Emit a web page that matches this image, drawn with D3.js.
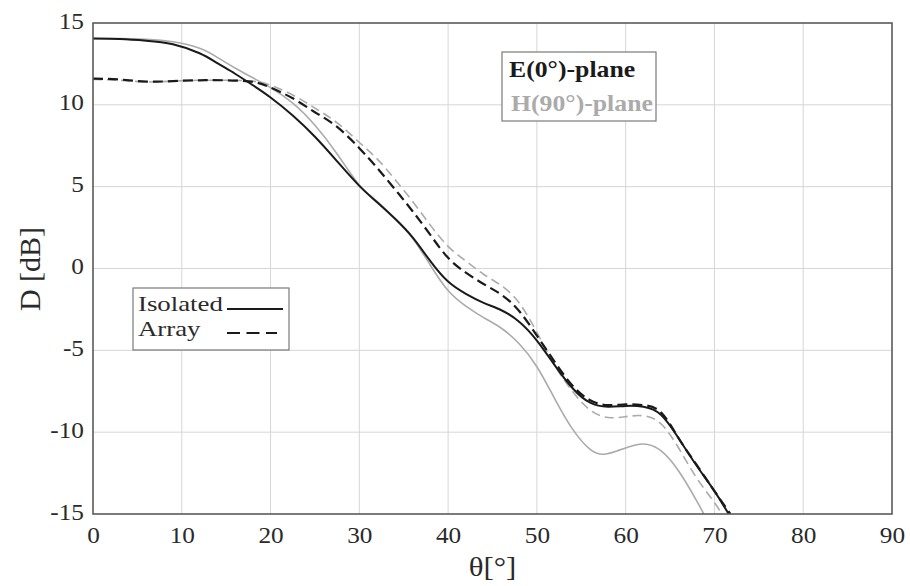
<!DOCTYPE html>
<html>
<head>
<meta charset="utf-8">
<script src="https://cdn.jsdelivr.net/npm/d3@7"></script>
<style>
  html, body { margin: 0; padding: 0; background: #fff; }
  svg { display: block; font-family: "Liberation Serif", "Times New Roman", serif; }
</style>
</head>
<body>
<svg id="chart" width="910" height="586"></svg>
<script>
// Directivity D [dB] versus elevation angle θ [°]

// E(0°)-plane, isolated element (black solid)
const eIsoTheta = [0, 3, 6, 9, 12, 14, 16, 18, 20, 22.5, 25, 27.5, 30, 32, 34, 36, 38, 40, 42, 44, 46, 48, 50, 52, 54, 56, 58, 60, 62, 64, 66, 68, 70, 71.6];
const eIsoD     = [14.05, 14.02, 13.92, 13.7, 13.15, 12.55, 11.9, 11.2, 10.45, 9.35, 8.05, 6.55, 5.05, 4.05, 3.05, 1.9, 0.45, -0.8, -1.55, -2.1, -2.55, -3.25, -4.4, -5.9, -7.3, -8.2, -8.45, -8.4, -8.45, -8.95, -10.4, -12.05, -13.6, -15];

// H(90°)-plane, isolated element (grey solid)
const hIsoTheta = [0, 3, 6, 9, 12, 14, 16, 18, 20, 22.5, 25, 27.5, 30, 32, 34, 36, 38, 40, 42, 44, 46, 48, 50, 52, 54, 56, 57.5, 59, 61, 62.5, 64, 66, 68, 68.8];
const hIsoD     = [14.05, 14.05, 14.0, 13.85, 13.45, 12.9, 12.25, 11.65, 11.05, 10.1, 8.75, 7.0, 5.1, 4.1, 3.05, 1.85, 0.2, -1.35, -2.3, -3.0, -3.65, -4.6, -6.0, -7.95, -9.8, -11.05, -11.35, -11.15, -10.8, -10.75, -11.15, -12.4, -14.2, -15];

// E(0°)-plane, array element (black dashed)
const eArrTheta = [0, 3, 6, 9, 12, 15, 18, 20, 22.5, 25, 27.5, 30, 32, 34, 36, 38, 40, 42, 44, 46, 48, 50, 52, 54, 56, 58, 60, 62, 64, 66, 68, 70, 71.8];
const eArrD     = [11.6, 11.55, 11.42, 11.45, 11.5, 11.5, 11.4, 11.05, 10.4, 9.55, 8.65, 7.35, 6.15, 4.85, 3.5, 2.05, 0.65, -0.25, -0.95, -1.6, -2.6, -4.1, -5.7, -7.15, -8.05, -8.35, -8.3, -8.35, -8.8, -10.4, -12.0, -13.6, -15];

// H(90°)-plane, array element (grey dashed)
const hArrTheta = [0, 3, 6, 9, 12, 15, 18, 20, 22.5, 25, 27.5, 30, 32, 34, 36, 38, 40, 42, 44, 46, 48, 50, 52, 54, 56, 58, 60, 62, 64, 66, 68, 70, 70.8];
const hArrD     = [11.55, 11.5, 11.4, 11.45, 11.5, 11.5, 11.45, 11.2, 10.6, 9.8, 8.9, 7.7, 6.7, 5.45, 4.1, 2.65, 1.35, 0.45, -0.35, -1.05, -2.1, -3.9, -5.9, -7.5, -8.65, -9.1, -9.05, -9.0, -9.5, -11.0, -12.8, -14.3, -15];

// Axis ticks
const xTicks = [0, 10, 20, 30, 40, 50, 60, 70, 80, 90];
const yTicks = [-15, -10, -5, 0, 5, 10, 15];

// Text
const xTitle = "θ[°]";
const yTitle = "D [dB]";
const planeLabels = ["E(0°)-plane", "H(90°)-plane"];
const typeLabels = ["Isolated", "Array"];

const svg = d3.select("#chart");
const plot = { left: 93, right: 892, top: 23, bottom: 514 };

const x = d3.scaleLinear().domain([0, 90]).range([plot.left, plot.right]);
const y = d3.scaleLinear().domain([-15, 15]).range([plot.bottom, plot.top]);

const black = "#1a1a1a";
const grey = "#ababab";
const frame = "#5a5a5a";
const textCol = "#2a2a2a";
const serif = "Liberation Serif, Times New Roman, serif";

// horizontally widened text, anchored at (tx, ty)
function wideText(sel, tx, ty, sx) {
  return sel.attr("transform", `translate(${tx},${ty}) scale(${sx},1)`);
}

// grid
const grid = svg.append("g").attr("stroke", "#d6d6d6").attr("stroke-width", 1);
grid.selectAll("line.v").data(xTicks.slice(1, -1)).join("line")
  .attr("x1", d => x(d)).attr("x2", d => x(d))
  .attr("y1", plot.top).attr("y2", plot.bottom);
grid.selectAll("line.h").data(yTicks.slice(1, -1)).join("line")
  .attr("x1", plot.left).attr("x2", plot.right)
  .attr("y1", d => y(d)).attr("y2", d => y(d));

// curves
svg.append("clipPath").attr("id", "clip").append("rect")
  .attr("x", plot.left).attr("y", plot.top)
  .attr("width", plot.right - plot.left).attr("height", plot.bottom - plot.top);

const line = d3.line().x(d => x(d[0])).y(d => y(d[1])).curve(d3.curveNatural);
const pairs = (t, v) => t.map((d, i) => [d, v[i]]);

const series = [
  { pts: pairs(hIsoTheta, hIsoD), color: grey, width: 1.6, dash: null },
  { pts: pairs(hArrTheta, hArrD), color: grey, width: 1.6, dash: "9,5" },
  { pts: pairs(eIsoTheta, eIsoD), color: black, width: 2.0, dash: null },
  { pts: pairs(eArrTheta, eArrD), color: black, width: 2.2, dash: "10,5" }
];

const curves = svg.append("g").attr("clip-path", "url(#clip)");
curves.selectAll("path").data(series).join("path")
  .attr("d", d => line(d.pts))
  .attr("fill", "none")
  .attr("stroke", d => d.color)
  .attr("stroke-width", d => d.width)
  .attr("stroke-dasharray", d => d.dash);

// frame
svg.append("rect")
  .attr("x", plot.left).attr("y", plot.top)
  .attr("width", plot.right - plot.left).attr("height", plot.bottom - plot.top)
  .attr("fill", "none").attr("stroke", frame).attr("stroke-width", 1.6);

// axes (labels only; the frame carries the axis lines)
const fmt = d => String(d);
const xAxis = svg.append("g")
  .attr("transform", `translate(0,${plot.bottom})`)
  .call(d3.axisBottom(x).tickValues(xTicks).tickFormat(fmt).tickSize(0).tickPadding(0));
xAxis.select(".domain").remove();
xAxis.selectAll("text")
  .attr("y", 0).attr("dy", 0)
  .attr("font-family", serif).attr("font-size", 23).attr("fill", textCol)
  .attr("text-anchor", "middle")
  .each(function () { wideText(d3.select(this), 0, 29, 1.1); });

const yAxis = svg.append("g")
  .attr("transform", `translate(${plot.left},0)`)
  .call(d3.axisLeft(y).tickValues(yTicks).tickFormat(fmt).tickSize(0).tickPadding(0));
yAxis.select(".domain").remove();
yAxis.selectAll("text")
  .attr("x", 0).attr("dy", 0)
  .attr("font-family", serif).attr("font-size", 23).attr("fill", textCol)
  .attr("text-anchor", "end")
  .each(function () { wideText(d3.select(this), -9, 5, 1.1); });

// axis titles
wideText(svg.append("text"), (plot.left + plot.right) / 2, 576, 1.1)
  .attr("text-anchor", "middle")
  .attr("font-size", 28).attr("fill", textCol)
  .text(xTitle);

svg.append("text")
  .attr("transform", "translate(40,269) rotate(-90)")
  .attr("text-anchor", "middle")
  .attr("font-size", 30).attr("fill", textCol)
  .text(yTitle);

// plane legend (top right)
const pl = svg.append("g");
pl.append("rect").attr("x", 502).attr("y", 52).attr("width", 154).attr("height", 69)
  .attr("fill", "#fff").attr("stroke", "#7a7a7a").attr("stroke-width", 1.2);
[black, grey].forEach((c, i) => {
  wideText(pl.append("text"), 509 + i * 2, 77 + i * 34, 1.12)
    .attr("font-size", 23).attr("font-weight", "bold").attr("fill", c)
    .text(planeLabels[i]);
});

// type legend (bottom left)
const tl = svg.append("g");
tl.append("rect").attr("x", 133).attr("y", 288).attr("width", 156).attr("height", 62)
  .attr("fill", "#fff").attr("stroke", "#7a7a7a").attr("stroke-width", 1.2);
typeLabels.forEach((t, i) => {
  wideText(tl.append("text"), 138, 311 + i * 25, 1.22)
    .attr("font-size", 22).attr("fill", textCol)
    .text(t);
  tl.append("line")
    .attr("x1", 227).attr("x2", i === 0 ? 283 : 277)
    .attr("y1", 309 + i * 24).attr("y2", 309 + i * 24)
    .attr("stroke", black).attr("stroke-width", 2)
    .attr("stroke-dasharray", i === 0 ? null : "13,6.5");
});
</script>
</body>
</html>
